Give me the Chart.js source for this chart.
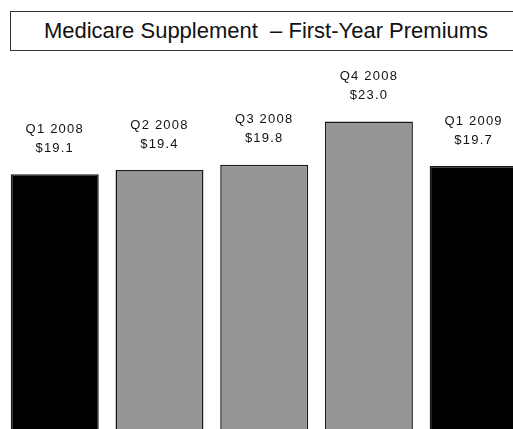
<!DOCTYPE html>
<html>
<head>
<meta charset="utf-8">
<script src="https://cdn.jsdelivr.net/npm/chart.js@4"></script>
<style>
  html, body { margin: 0; padding: 0; background: #fff; overflow: hidden; width: 513px; height: 429px; }
  #wrap { position: absolute; left: 0; top: 0; width: 526px; height: 432px; }
  #title {
    position: absolute; left: 10px; top: 11px; width: 510px; height: 38px;
    border: 1.5px solid #333; background: #fff; box-sizing: content-box;
    font-family: Arial, "Liberation Sans", sans-serif; font-size: 22px; color: #111;
    line-height: 38px; text-align: center; white-space: pre; z-index: 2;
  }
</style>
</head>
<body>
<div id="wrap"><canvas id="chart" width="526" height="432"></canvas></div>
<div id="title">Medicare Supplement  – First-Year Premiums</div>
<script>
const quarters = ['Q1 2008', 'Q2 2008', 'Q3 2008', 'Q4 2008', 'Q1 2009'];
const premiums = [19.1, 19.4, 19.8, 23.0, 19.7];
const valueLabels = ['$19.1', '$19.4', '$19.8', '$23.0', '$19.7'];
const barColors = ['#000000', '#969696', '#969696', '#969696', '#000000'];

// two-line label above each bar, positioned from the bar element
const barLabels = {
  id: 'barLabels',
  afterDatasetsDraw(chart) {
    const ctx = chart.ctx;
    const meta = chart.getDatasetMeta(0);
    ctx.save();
    ctx.fillStyle = '#111';
    ctx.font = '13px Arial, "Liberation Sans", sans-serif';
    ctx.letterSpacing = '1.2px';
    ctx.textAlign = 'center';
    ctx.textBaseline = 'middle';
    meta.data.forEach((bar, i) => {
      ctx.fillText(quarters[i], bar.x, bar.y - 45);
      ctx.fillText(valueLabels[i], bar.x, bar.y - 26);
    });
    ctx.restore();
  }
};

new Chart(document.getElementById('chart'), {
  type: 'bar',
  data: {
    labels: quarters,
    datasets: [{
      data: premiums,
      backgroundColor: barColors,
      borderColor: '#1a1a1a',
      borderWidth: 1.5,
      categoryPercentage: 1,
      barPercentage: 0.84
    }]
  },
  options: {
    responsive: false,
    animation: false,
    layout: { padding: { left: 2.4, right: 0, top: 0, bottom: 0 } },
    plugins: { legend: { display: false }, tooltip: { enabled: false } },
    scales: {
      x: { display: false },
      y: { display: false, min: 0, max: 32 }
    }
  },
  plugins: [barLabels]
});
</script>
</body>
</html>
